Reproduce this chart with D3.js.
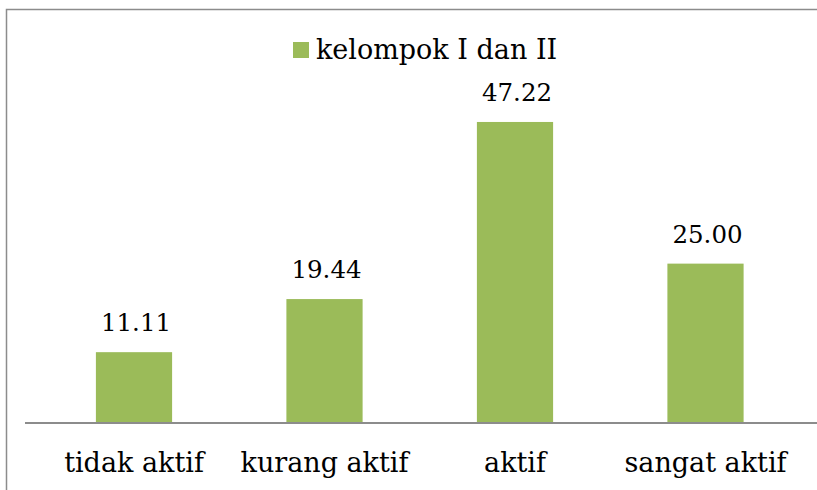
<!DOCTYPE html>
<html>
<head>
<meta charset="utf-8">
<script src="https://cdn.jsdelivr.net/npm/d3@7"></script>
<style>
  body { margin: 0; background: #fff; }
  text { font-family: "DejaVu Serif", serif; fill: #000; }
</style>
</head>
<body>
<div id="chart"></div>
<script>
const categories = ["tidak aktif", "kurang aktif", "aktif", "sangat aktif"];
const values = [11.11, 19.44, 47.22, 25.00];
const seriesName = "kelompok I dan II";

const width = 817, height = 490;
const barColor = "#9bbb59";

const svg = d3.select("#chart").append("svg")
    .attr("width", width)
    .attr("height", height);

// outer chart border (cut off on right/bottom like the reference)
svg.append("rect")
    .attr("x", 6.5).attr("y", 9.5)
    .attr("width", 830).attr("height", 500)
    .attr("fill", "none")
    .attr("stroke", "#8c8c8c")
    .attr("stroke-width", 1.5);

const x = d3.scaleBand()
    .domain(categories)
    .range([38.75, 800.75])
    .paddingInner(0.6)
    .paddingOuter(0.3);

const y = d3.scaleLinear()
    .domain([0, 50])
    .range([423, 104.25]);

svg.selectAll(".bar")
    .data(values)
    .enter()
    .append("rect")
    .attr("class", "bar")
    .attr("x", (d, i) => x(categories[i]))
    .attr("y", d => y(d))
    .attr("width", x.bandwidth())
    .attr("height", d => y(0) - y(d))
    .attr("fill", barColor);

// axis baseline
svg.append("line")
    .attr("x1", 25).attr("x2", width)
    .attr("y1", y(0)).attr("y2", y(0))
    .attr("stroke", "#8c8c8c")
    .attr("stroke-width", 2);

svg.selectAll(".val")
    .data(values)
    .enter()
    .append("text")
    .attr("class", "val")
    .attr("x", (d, i) => x(categories[i]) + x.bandwidth() / 2 + 2)
    .attr("y", d => y(d) - 21)
    .attr("text-anchor", "middle")
    .style("font-size", "24.5px")
    .text(d => d.toFixed(2));

svg.selectAll(".cat")
    .data(categories)
    .enter()
    .append("text")
    .attr("class", "cat")
    .attr("x", d => x(d) + x.bandwidth() / 2)
    .attr("y", 472)
    .attr("text-anchor", "middle")
    .style("font-size", "27px")
    .text(d => d);

// legend
const legend = svg.append("g").attr("transform", "translate(293,42)");
legend.append("rect")
    .attr("width", 16).attr("height", 16)
    .attr("fill", barColor);
legend.append("text")
    .attr("x", 23).attr("y", 17)
    .style("font-size", "27px")
    .text(seriesName);
</script>
</body>
</html>
